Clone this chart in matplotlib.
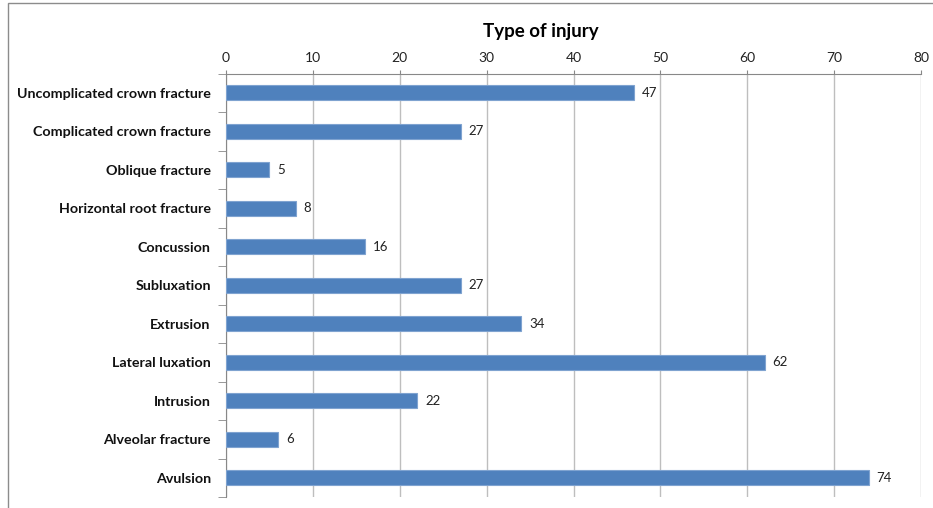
import matplotlib.pyplot as plt
from matplotlib.patches import Rectangle

categories = ["Uncomplicated crown fracture", "Complicated crown fracture", "Oblique fracture",
              "Horizontal root fracture", "Concussion", "Subluxation", "Extrusion",
              "Lateral luxation", "Intrusion", "Alveolar fracture", "Avulsion"]
values = [47, 27, 5, 8, 16, 27, 34, 62, 22, 6, 74]
xticks = [0, 10, 20, 30, 40, 50, 60, 70, 80]

plt.rcParams['font.family'] = ['Lato', 'DejaVu Sans']

fig = plt.figure(figsize=(9.33, 5.08), dpi=100)
W, H = 933, 508
ax = fig.add_axes([226 / W, 1 - 497 / H, (921 - 226) / W, (497 - 73.5) / H])

n = len(categories)
pos = list(range(n))
ax.barh(pos, values, height=0.4, color='#4F81BD', edgecolor='#7FA3D0', linewidth=0.8, zorder=3)
for p, v in zip(pos, values):
    ax.text(v + 0.9, p, str(v), va='center', ha='left', fontsize=9.5, color='#222222')

ax.set_ylim(n - 0.5, -0.5)
ax.set_xlim(0, 80)
ax.xaxis.tick_top()
ax.set_xticks(xticks)
ax.tick_params(axis='x', length=3, color='#888888', labelsize=10, pad=3.5, labelcolor='#222222')
ax.set_yticks(pos)
ax.set_yticklabels(categories, fontweight='bold', fontsize=10.3, color='#111111')
ax.set_yticks([i - 0.5 for i in range(n + 1)], minor=True)
ax.tick_params(axis='y', which='major', length=0, pad=11)
ax.tick_params(axis='y', which='minor', length=6, color='#888888')
ax.grid(axis='x', color='#BEBEBE', linewidth=1, zorder=0)
for s in ['right', 'bottom']:
    ax.spines[s].set_visible(False)
ax.spines['top'].set_color('#888888')
ax.spines['left'].set_color('#888888')

fig.text(541 / W, 1 - 31 / H, "Type of injury", ha='center', va='center', fontsize=13.5, fontweight='bold')

fig.patches.append(Rectangle((8 / W, -0.1), 1.2, 1 - 3 / H + 0.1, transform=fig.transFigure,
                             fill=False, edgecolor='#8C8C8C', linewidth=1))

fig.savefig('out.png', dpi=100)
